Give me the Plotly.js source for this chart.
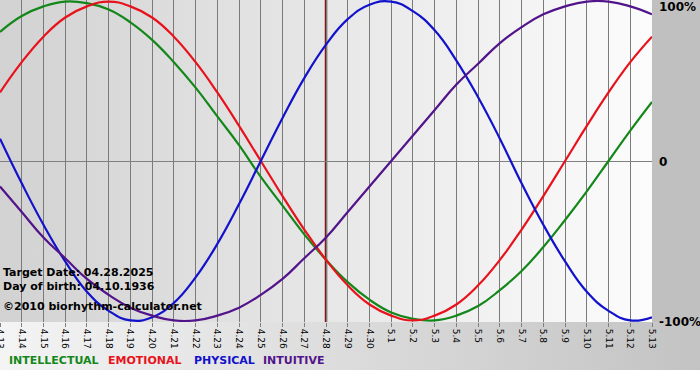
<!DOCTYPE html>
<html>
<head>
<meta charset="utf-8">
<script src="https://cdn.plot.ly/plotly-3.0.1.min.js"></script>
<style>
  html, body { margin: 0; padding: 0; background: #ffffff; }
  #chart {
    width: 700px; height: 380px;
    background:
      linear-gradient(to right, #d2d2d2, #fcfcfc) 0 0 / 652px 322px no-repeat,
      linear-gradient(#c0c0c0, #c0c0c0) 652px 0 / 48px 322px no-repeat,
      linear-gradient(to right, #f4f4f4, #c3c3c3) 0 322px / 700px 48px no-repeat,
      #ffffff;
  }
</style>
</head>
<body>
<div id="chart"></div>
<script>
// Dates shown on the x axis (month.day)
const dates = ["4.13","4.14","4.15","4.16","4.17","4.18","4.19","4.20","4.21","4.22",
               "4.23","4.24","4.25","4.26","4.27","4.28","4.29","4.30","5.1","5.2",
               "5.3","5.4","5.5","5.6","5.7","5.8","5.9","5.10","5.11","5.12","5.13"];

// Cycle values per day (fraction of 100%)
const intellectual = [0.81,0.91,0.97,1.00,0.99,0.95,0.87,0.76,0.62,0.46,
                      0.28,0.10,-0.10,-0.28,-0.46,-0.62,-0.76,-0.87,-0.95,-0.99,
                      -1.00,-0.97,-0.91,-0.81,-0.69,-0.54,-0.37,-0.19,0.00,0.19,0.37];
const emotional    = [0.43,0.62,0.78,0.90,0.97,1.00,0.97,0.90,0.78,0.62,
                      0.43,0.22,0.00,-0.22,-0.43,-0.62,-0.78,-0.90,-0.97,-1.00,
                      -0.97,-0.90,-0.78,-0.62,-0.43,-0.22,0.00,0.22,0.43,0.62,0.78];
const physical     = [0.14,-0.14,-0.40,-0.63,-0.82,-0.94,-1.00,-0.98,-0.89,-0.73,
                      -0.52,-0.27,0.00,0.27,0.52,0.73,0.89,0.98,1.00,0.94,
                      0.82,0.63,0.40,0.14,-0.14,-0.40,-0.63,-0.82,-0.94,-1.00,-0.98];
const intuitive    = [-0.16,-0.32,-0.48,-0.61,-0.74,-0.84,-0.92,-0.97,-1.00,-1.00,
                      -0.97,-0.92,-0.84,-0.74,-0.61,-0.48,-0.32,-0.16,0.00,0.16,
                      0.32,0.48,0.61,0.74,0.84,0.92,0.97,1.00,1.00,0.97,0.92];

const seriesNames = ["INTELLECTUAL","EMOTIONAL","PHYSICAL","INTUITIVE"];
const seriesColors = ["#14871a","#e8121c","#1212cc","#52148a"];
const seriesValues = [intellectual, emotional, physical, intuitive];

const yTickVals = [1, 0, -1];
const yTickText = ["100%", "0", "-100%"];
const targetDate = "4.28";
const infoLines = ["Target Date: 04.28.2025", "Day of birth: 04.10.1936", "\u00a92010 biorhythm-calculator.net"];

const traces = seriesValues.map((vals, i) => ({
  type: "scatter", mode: "lines",
  x: dates, y: vals, name: seriesNames[i],
  line: {color: seriesColors[i], width: 2.2, shape: "spline", smoothing: 1.3},
  hoverinfo: "skip", showlegend: false
}));

const annotations = [];
// right-side y labels
const yShifts = [-5, -1, -1.5];
yTickVals.forEach((v, i) => {
  annotations.push({
    xref: "paper", yref: "y", x: 1, y: v, xanchor: "left", yanchor: "middle",
    xshift: 5, yshift: yShifts[i], showarrow: false, text: "<b>" + yTickText[i] + "</b>",
    font: {family: "DejaVu Sans", size: 12, color: "#000000"}
  });
});
// info text block
const infoY = [0.155, 0.109, 0.047];
infoLines.forEach((t, i) => {
  annotations.push({
    xref: "paper", yref: "paper", x: 0, y: infoY[i], xanchor: "left", yanchor: "middle",
    xshift: 1, showarrow: false, text: "<b>" + t + "</b>",
    font: {family: "DejaVu Sans", size: 11, color: "#000000"}
  });
});
// colored legend words
const legendX = [0.011, 0.163, 0.295, 0.401];
seriesNames.forEach((n, i) => {
  annotations.push({
    xref: "paper", yref: "paper", x: legendX[i], y: -0.121, xanchor: "left", yanchor: "middle",
    showarrow: false, text: "<b>" + n + "</b>",
    font: {family: "DejaVu Sans", size: 11, color: seriesColors[i]}
  });
});

const layout = {
  width: 700, height: 380,
  margin: {l: 0, r: 48, t: 0, b: 58, pad: 0},
  paper_bgcolor: "rgba(0,0,0,0)",
  plot_bgcolor: "rgba(0,0,0,0)",
  showlegend: false,
  xaxis: {
    type: "category", categoryorder: "array", categoryarray: dates,
    range: [0, dates.length - 1],
    showgrid: true, gridcolor: "#7a7a7a", gridwidth: 1,
    zeroline: false, showline: false,
    ticks: "outside", ticklen: 4, tickcolor: "#808080", tickwidth: 1,
    tickangle: 90,
    tickfont: {family: "DejaVu Sans", size: 9, color: "#000000"},
    fixedrange: true
  },
  yaxis: {
    range: [-1.01, 1.01],
    showgrid: false, showticklabels: false, ticks: "",
    zeroline: true, zerolinecolor: "#808080", zerolinewidth: 1,
    showline: false, fixedrange: true
  },
  shapes: [{
    type: "line", xref: "x", yref: "paper",
    x0: dates.indexOf(targetDate), x1: dates.indexOf(targetDate), y0: 0, y1: 1,
    line: {color: "#7a1c1c", width: 2.5}, layer: "below"
  }],
  annotations: annotations
};

Plotly.newPlot("chart", traces, layout, {displayModeBar: false, staticPlot: true});
</script>
</body>
</html>
